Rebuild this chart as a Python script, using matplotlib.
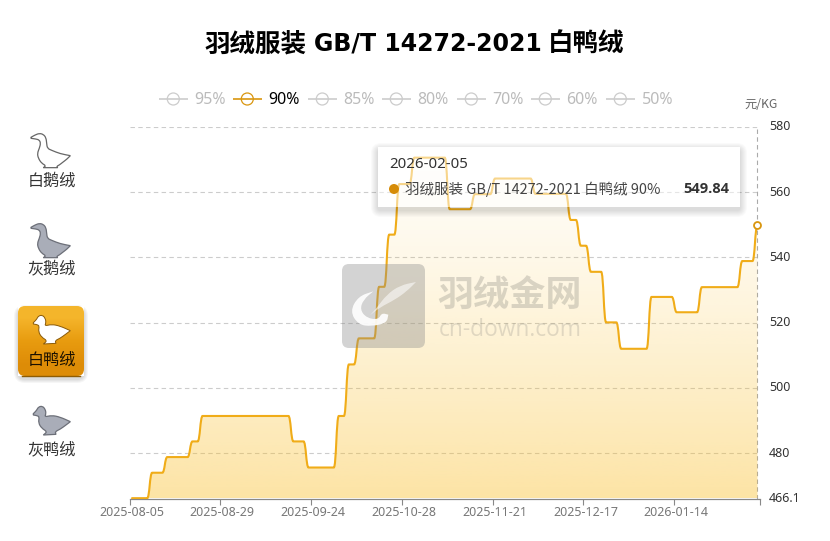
import numpy as np
import matplotlib
matplotlib.use("Agg")
import matplotlib.pyplot as plt
from matplotlib.path import Path
from matplotlib.patches import PathPatch, FancyBboxPatch, Circle
from matplotlib.transforms import ScaledTranslation

plt.rcParams['font.family'] = ['Noto Sans CJK SC', 'DejaVu Sans']

step_start = [0, 4, 7, 12, 14, 32, 35, 41, 43, 45, 49, 51, 53, 56, 63, 68, 72, 80, 87, 89, 91, 94, 97, 103, 108, 113, 121, 124]
step_price = [466.2, 474.0, 478.8, 483.6, 491.4, 483.6, 475.6, 491.4, 507.2, 515.2, 531.0, 547.0, 562.5, 570.6,
              554.8, 559.4, 564.2, 559.5, 551.5, 543.6, 535.6, 520.1, 512.0, 527.9, 523.2, 530.9, 538.9, 549.84]
n_days = 125

date_ticks = [0, 18, 36, 54, 72, 90, 108]
date_labels = ['2025-08-05', '2025-08-29', '2025-09-24', '2025-10-28', '2025-11-21', '2025-12-17', '2026-01-14']
price_ticks = [466.1, 480, 500, 520, 540, 560, 580]
price_labels = ['466.1', '480', '500', '520', '540', '560', '580']

legend_names = ['95%', '90%', '85%', '80%', '70%', '60%', '50%']
legend_x = [159, 233, 308, 382, 457, 531, 606]
side_names = ['白鹅绒', '灰鹅绒', '白鸭绒', '灰鸭绒']

# silhouettes traced from the icons, in 1/3 px (doubled points keep a corner sharp)
goose = [(63, 37), (63, 37), (75, 30), (88, 25), (100, 28), (108, 38), (110, 55), (112, 70), (125, 76), (150, 86),
         (181, 92), (181, 92), (170, 103), (158, 112), (148, 120), (140, 124), (143, 128), (143, 128), (100, 128),
         (100, 128), (108, 122), (95, 115), (85, 100), (82, 85), (88, 70), (92, 55), (88, 45), (78, 42), (63, 40), (63, 40)]
duck = [(70, 68), (70, 68), (80, 58), (85, 48), (97, 45), (106, 55), (108, 68), (104, 78), (125, 73), (150, 78),
        (181, 92), (181, 92), (168, 102), (150, 115), (135, 122), (138, 130), (138, 130), (100, 132), (100, 132),
        (112, 122), (95, 112), (85, 95), (88, 78), (82, 74), (70, 72), (70, 72)]
feather = [(243, 72), (243, 72), (195, 82), (155, 110), (125, 150), (105, 172), (105, 172), (135, 148), (180, 125), (215, 100)]
swoosh = [(115, 100), (115, 100), (70, 115), (45, 160), (70, 200), (110, 205), (155, 195), (160, 170), (160, 170), (140, 165),
          (130, 185), (95, 180), (75, 155), (85, 125)]

GOLD = '#D9960F'
LINE = '#F0AC18'


def blob(points, ox, oy, scale=1 / 3):
    # closed quadratic spline through the midpoints of the outline
    p = np.array(points, float) * scale + (ox, oy)
    mid = (p + np.roll(p, -1, axis=0)) / 2
    verts = [mid[-1]]
    codes = [Path.MOVETO]
    for a, b in zip(p, mid):
        verts += [a, b]
        codes += [Path.CURVE3, Path.CURVE3]
    return Path(verts, codes)


def shadow(a, x, y, w, h, rad, dy=2, spread=8, alpha=0.03):
    # soft shadow kept outside the box so a see-through box stays clean
    outer = [(0, 0), (830, 0), (830, 541), (0, 541), (0, 0)]
    inner = [(x, y), (x, y + h), (x + w, y + h), (x + w, y), (x, y)]
    hole = Path(outer + inner, [1, 2, 2, 2, 79, 1, 2, 2, 2, 79])
    for k in range(spread, 0, -1):
        s = a.add_patch(FancyBboxPatch((x - k, y - k + dy), w + 2 * k, h + 2 * k,
                                       boxstyle=f'round,pad=0,rounding_size={rad + k}',
                                       fc='black', ec='none', alpha=alpha))
        s.set_clip_path(hole, a.transData)


fig = plt.figure(figsize=(8.3, 5.41), dpi=100)
ax = fig.add_axes([129.5 / 830, 1 - 498.5 / 541, (760 - 129.5) / 830, (498.5 - 127) / 541])
ax.set_xlim(0, n_days)
ax.set_ylim(466.1, 580)

runs = np.diff(step_start + [n_days])
prices = np.repeat(step_price, runs)
days = np.arange(n_days) + 0.5

# smooth step: s-curve between neighbouring days
verts = [(days[0], prices[0])]
codes = [Path.MOVETO]
for i in range(n_days - 1):
    xm = days[i] + 0.5
    verts += [(xm, prices[i]), (xm, prices[i + 1]), (days[i + 1], prices[i + 1])]
    codes += [Path.CURVE4] * 3
line_path = Path(verts, codes)
area_path = Path(verts + [(days[-1], 466.1), (days[0], 466.1), (days[0], prices[0])],
                 codes + [Path.LINETO, Path.LINETO, Path.LINETO])

ax.hlines(price_ticks[1:], 0, days[-1], color='#CCCCCC', lw=0.8, ls=(0, (4, 3)), zorder=1)
ax.axvline(days[-1], color='#AAAAAA', lw=0.8, ls=(0, (4, 3)), zorder=1)

grad = np.zeros((256, 1, 4))
grad[..., 0] = 250 / 255
grad[..., 1] = 190 / 255
grad[..., 2] = 40 / 255
grad[..., 3] = (0.01 + 0.41 * np.linspace(0, 1, 256) ** 1.4)[:, None]
im = ax.imshow(grad, extent=(0, n_days, 466.1, 580), origin='upper', aspect='auto', zorder=2)
im.set_clip_path(PathPatch(area_path, transform=ax.transData))
ax.set_xlim(0, n_days)
ax.set_ylim(466.1, 580)

ax.add_patch(PathPatch(line_path, fc='none', ec=LINE, lw=1.5, zorder=3, capstyle='round'))
ax.plot(days[-1], prices[-1], 'o', ms=5, mfc='white', mec=GOLD, mew=1.3, zorder=4, clip_on=False)

for s in ['top', 'left', 'right']:
    ax.spines[s].set_visible(False)
ax.spines['bottom'].set_color('#888888')
ax.spines['bottom'].set_linewidth(0.9)
ax.patch.set_alpha(0)
ax.set_xticks(date_ticks + [n_days])
ax.set_xticklabels(date_labels + [''], family='Noto Sans', fontsize=9, color='#777777')
ax.tick_params(axis='x', length=4, width=0.8, color='#888888', pad=1.5)
ax.yaxis.tick_right()
ax.set_yticks(price_ticks)
ax.set_yticklabels(price_labels, family='Noto Sans', fontsize=9, color='#333333')
ax.tick_params(axis='y', length=0, pad=6.5)
for lab in ax.get_xticklabels():
    lab.set_transform(lab.get_transform() + ScaledTranslation(2 / 100, 0, fig.dpi_scale_trans))
for lab in ax.get_yticklabels():
    lab.set_transform(lab.get_transform() + ScaledTranslation(0, 1.5 / 100, fig.dpi_scale_trans))

# everything that is not data goes on a pixel-coordinate layer
ov = fig.add_axes([0, 0, 1, 1], zorder=5)
ov.set_xlim(0, 830)
ov.set_ylim(541, 0)
ov.axis('off')

ov.text(204, 44, '羽绒服装', ha='left', va='center', fontsize=18.4, fontweight='bold', color='black')
ov.text(314, 43.5, 'GB/T 14272-2021', ha='left', va='center', family='DejaVu Sans', fontsize=17, fontweight='bold', color='black')
ov.text(548, 44, '白鸭绒', ha='left', va='center', fontsize=18.4, fontweight='bold', color='black')

for name, x in zip(legend_names, legend_x):
    on = name == '90%'
    c = GOLD if on else '#CCCCCC'
    ov.plot([x, x + 28.5], [99, 99], color=c, lw=1.2, solid_capstyle='butt')
    ov.add_patch(Circle((x + 14.3, 99), 6, fc='white', ec=c, lw=0.9))
    ov.text(x + 35.5, 99.5, name, ha='left', va='center', family='Noto Sans', fontsize=11.5,
            color='black' if on else '#BBBBBB')
ov.text(744, 104, '元/KG', ha='left', va='center', fontsize=8.8, color='#666666')

# side buttons
shadow(ov, 18, 306, 66, 70, 7, dy=3, spread=4, alpha=0.035)
box = FancyBboxPatch((18, 306), 66, 70, boxstyle='round,pad=0,rounding_size=7', fc='none', ec='none')
ov.add_patch(box)
btn = np.array([[0.96, 0.71, 0.17], [0.91, 0.61, 0.06], [0.87, 0.55, 0.03]])[:, None, :]
bi = ov.imshow(btn, extent=(18, 84, 376, 306), aspect='auto', interpolation='bilinear', zorder=1)
bi.set_clip_path(box)
ov.plot([22, 80], [375.5, 375.5], color='#8E5C04', lw=1, zorder=2)
ov.set_xlim(0, 830)
ov.set_ylim(541, 0)

ov.add_patch(PathPatch(blob(goose, 10, 125), fc='white', ec='#666666', lw=0.9))
ov.add_patch(PathPatch(blob(goose, 10, 215), fc='#A9ADB8', ec='#6C6F78', lw=0.9))
ov.add_patch(PathPatch(blob(duck, 10, 300), fc='white', ec='#8A5A08', lw=0.7, zorder=3))
ov.add_patch(PathPatch(blob(duck, 10, 391), fc='#A9ADB8', ec='#6C6F78', lw=0.9))
for name, y, c in zip(side_names, [180.5, 269.5, 359.5, 449.5], ['#333333', '#333333', '#1A1000', '#333333']):
    ov.text(51.5, y, name, ha='center', va='center', fontsize=11.6, color=c, zorder=3)

# watermark
logo = FancyBboxPatch((342, 264), 83, 84, boxstyle='round,pad=0,rounding_size=7', fc='#888888', ec='none', alpha=0.37)
ov.add_patch(logo)
ov.add_patch(PathPatch(blob(feather, 335, 258), fc='white', ec='none', alpha=0.55))
ov.add_patch(PathPatch(blob(swoosh, 335, 258), fc='white', ec='none', alpha=0.9))
ov.text(510, 296, '羽绒金网', ha='center', va='center', fontsize=26, fontweight='bold', color='#A8A498', alpha=0.42)
ov.text(510, 330, 'cn-down.com', ha='center', va='center', family='Open Sans', fontsize=16.4, color='#A8A498', alpha=0.35)

# tooltip, see-through like the reference
shadow(ov, 378, 147, 362, 60, 3, dy=3, spread=7, alpha=0.02)
ov.add_patch(FancyBboxPatch((378, 147), 362, 60, boxstyle='round,pad=0,rounding_size=3', fc='white', ec='none', alpha=0.5))
ov.text(389, 165, '2026-02-05', ha='left', va='center', family='Noto Sans', fontsize=10.8, color='#333333')
ov.add_patch(Circle((394, 189), 5, fc='#D68C08', ec='none'))
ov.text(405, 189, '羽绒服装 GB/T 14272-2021 白鸭绒 90%', ha='left', va='center', fontsize=10.45, color='#444444')
ov.text(729, 189, '549.84', ha='right', va='center', family='Open Sans', fontsize=10.5, fontweight='bold', color='#333333')

fig.savefig('out.png', dpi=100)
